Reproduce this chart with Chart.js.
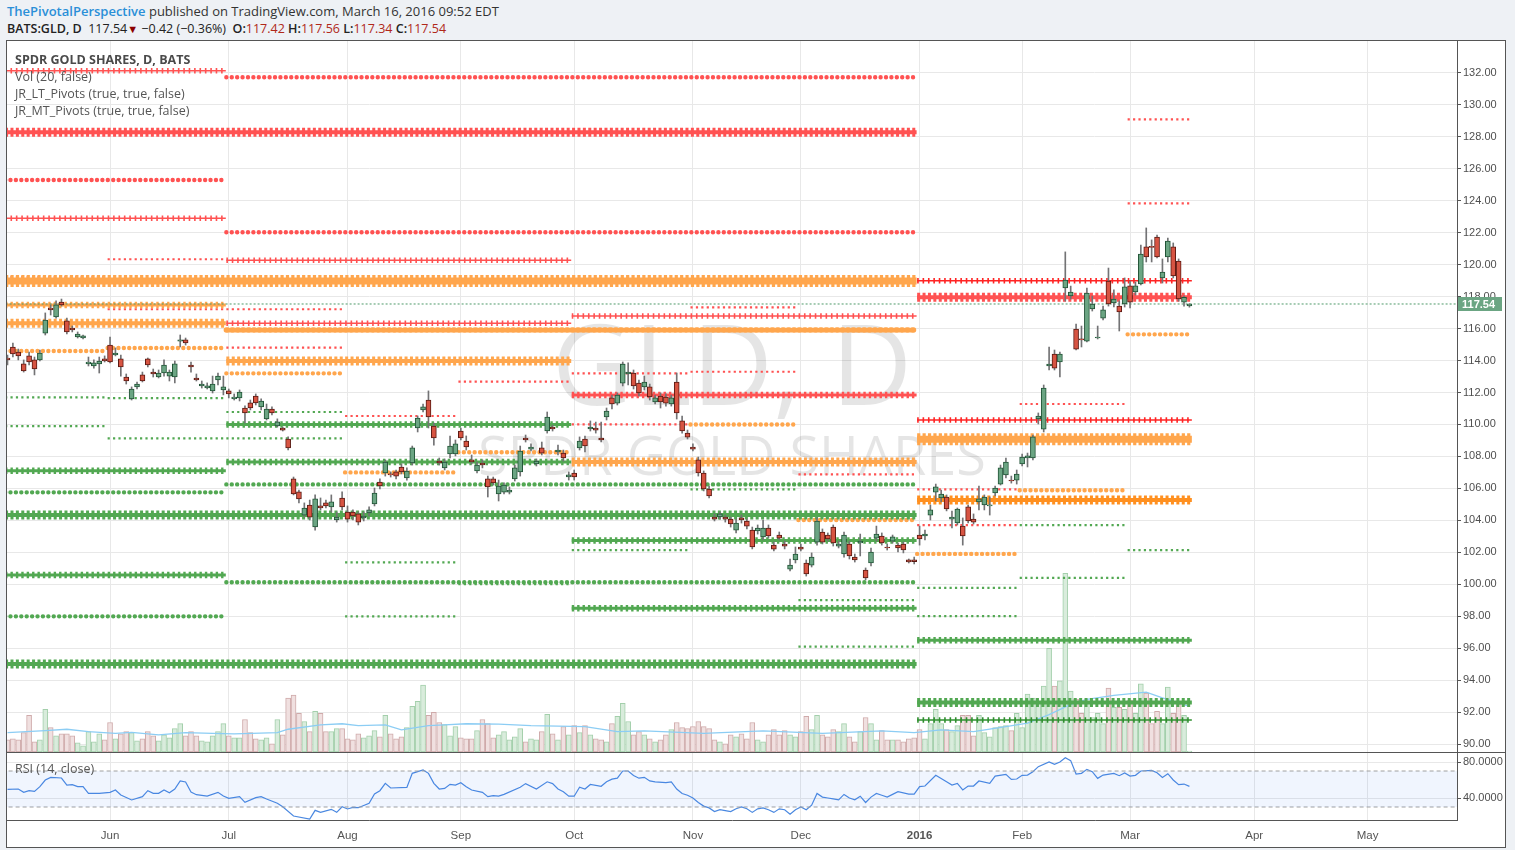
<!DOCTYPE html>
<html>
<head>
<meta charset="utf-8">
<title>BATS:GLD, D</title>
<script src="https://cdn.jsdelivr.net/npm/chart.js@4.4.1/dist/chart.umd.min.js"></script>
<style>
  body { margin:0; width:1515px; height:850px; background:#eef1f5; font-family:"Open Sans", sans-serif; position:relative; overflow:hidden; }
  .head1 { position:absolute; left:7px; top:2px; font-size:13px; color:#333; white-space:nowrap; }
  .head1 .who { color:#2a8fd8; font-weight:600; }
  .head2 { position:absolute; left:7px; top:20px; font-size:12.5px; color:#222; white-space:nowrap; }
  .head2 b { font-weight:600; }
  .head2 .dn { color:#b0281a; }
  .head2 .tri { color:#8b0000; font-size:11px; }
  .frame { position:absolute; left:6px; top:40px; width:1498px; height:806px; background:#fff; border:1px solid #555; }
  #main { position:absolute; left:0; top:0; }
  #rsi { position:absolute; left:0; top:712px; }
  .sep { position:absolute; left:0; top:711px; width:1498px; height:1px; background:#555; }
  .legend { position:absolute; left:8px; top:10px; font-size:12.5px; color:#555; line-height:17px; }
  .legend .t { font-weight:700; color:#4a4a4a; }
  .rsi-lbl { position:absolute; left:8px; top:719px; font-size:12.5px; color:#555; }
</style>
</head>
<body>
<div class="head1"><span class="who">ThePivotalPerspective</span> published on TradingView.com, March 16, 2016 09:52 EDT</div>
<div class="head2"><b>BATS:GLD, D</b>&nbsp; 117.54<span class="tri">&#9660;</span> &minus;0.42 (&minus;0.36%)&nbsp; <b>O:</b><span class="dn">117.42</span> <b>H:</b><span class="dn">117.56</span> <b>L:</b><span class="dn">117.34</span> <b>C:</b><span class="dn">117.54</span></div>
<div class="frame">
  <canvas id="main" width="1498" height="711"></canvas>
  <div class="sep"></div>
  <canvas id="rsi" width="1498" height="94"></canvas>
  <div class="legend">
    <div class="t">SPDR GOLD SHARES, D, BATS</div>
    <div>Vol (20, false)</div>
    <div>JR_LT_Pivots (true, true, false)</div>
    <div>JR_MT_Pivots (true, true, false)</div>
  </div>
  <div class="rsi-lbl">RSI (14, close)</div>
</div>
<script>
// daily bars, 2015-05-05 .. 2016-03-16 (index = trading day)
const open = [
  114.16,114.85,114.53,113.79,114.29,114.04,114.04,115.72,117.29,116.73,
  117.66,116.48,116.04,115.48,115.41,113.79,113.66,113.79,114.10,114.97,
  114.35,114.10,112.97,111.60,112.35,113.10,114.10,113.28,112.97,113.22,
  113.03,112.97,115.22,115.29,113.72,112.91,112.41,112.28,112.10,112.78,
  112.16,112.10,111.60,111.66,111.03,111.35,111.78,111.10,110.35,110.97,
  109.91,109.78,109.09,106.59,105.78,104.33,104.96,103.58,104.90,105.09,
  104.84,104.02,105.40,104.52,104.52,104.40,104.15,104.46,105.02,106.40,
  106.96,106.90,107.03,107.34,106.65,107.59,109.78,110.91,111.53,109.90,
  107.71,107.28,108.15,108.15,109.59,108.96,107.78,107.09,107.59,106.59,
  106.59,105.65,105.77,105.77,106.59,107.03,109.15,108.46,107.53,108.53,
  109.59,109.84,108.28,108.21,106.71,106.96,108.53,109.09,109.72,109.78,
  109.15,110.47,111.66,111.34,112.59,113.16,113.22,112.59,112.35,112.35,
  111.41,111.78,111.72,111.28,112.66,110.22,109.46,108.59,107.78,106.96,
  105.96,104.21,104.21,104.21,104.08,103.39,104.15,103.96,103.39,103.33,
  102.96,103.52,102.45,103.08,102.52,100.95,101.52,102.33,101.33,101.20,
  102.64,103.27,103.08,103.58,102.39,101.89,102.52,101.70,102.58,100.89,
  101.33,102.89,103.02,102.33,102.70,102.45,102.52,101.52,101.52,103.08,
  103.02,104.33,105.77,105.40,105.46,104.08,103.83,103.64,104.84,104.08,
  105.15,104.96,104.90,105.71,106.27,106.84,106.52,106.52,107.53,107.90,
  107.90,110.34,109.71,113.66,114.41,113.91,118.54,118.04,115.97,115.35,
  115.22,117.23,115.41,116.66,118.98,117.60,117.41,117.54,118.67,118.29,
  118.79,121.11,121.14,121.73,119.17,120.48,121.11,120.23,117.66,117.42
];
const high = [
  114.35,115.10,114.72,114.04,114.53,114.22,114.66,116.98,117.48,117.73,
  117.85,116.66,116.16,115.79,115.60,114.22,114.04,114.22,114.29,115.47,
  114.79,114.35,113.16,112.35,112.66,113.28,114.16,113.47,113.41,114.04,
  113.41,113.97,115.60,115.41,113.91,113.16,112.72,112.60,113.03,113.22,
  113.03,112.22,111.91,112.16,111.16,111.53,111.91,111.60,111.28,111.10,
  110.35,109.84,109.22,106.71,105.90,105.09,105.27,105.59,105.40,105.27,
  105.59,104.52,105.78,104.90,104.65,104.52,104.52,104.84,106.02,106.59,
  107.78,107.03,107.15,107.53,107.28,108.65,110.53,111.28,112.10,110.09,
  107.90,107.84,109.28,109.03,109.78,109.28,108.09,107.65,107.78,106.77,
  106.71,106.52,106.34,106.09,107.46,108.65,109.34,108.78,107.84,108.90,
  110.78,109.96,108.71,108.40,107.03,107.15,109.22,109.28,110.22,110.15,
  110.15,111.03,111.84,111.97,113.91,113.85,113.41,112.78,113.03,112.53,
  111.84,111.97,111.91,111.84,113.22,110.53,109.65,108.78,107.96,107.09,
  106.15,104.40,104.52,104.33,104.21,104.08,104.33,104.08,103.58,103.71,
  104.02,103.71,102.64,103.27,102.70,101.58,102.33,102.52,101.52,101.96,
  104.15,103.46,103.21,103.71,102.70,103.27,102.70,101.89,103.14,101.02,
  102.27,103.64,103.21,102.52,103.08,102.58,102.64,101.58,101.70,103.64,
  103.39,104.96,106.27,105.90,105.59,104.58,104.77,104.15,104.96,104.40,
  106.15,105.59,105.46,106.15,107.46,107.90,106.77,107.15,108.15,108.21,
  109.34,110.72,112.47,114.85,114.66,114.53,120.80,118.66,116.29,116.16,
  118.54,118.04,116.16,117.41,119.79,118.42,117.73,119.17,118.98,118.92,
  121.23,122.30,121.55,121.86,120.36,121.67,121.36,120.36,118.05,117.56
];
const low = [
  113.72,114.22,114.04,113.28,113.72,113.10,113.97,115.60,116.85,116.66,
  117.41,115.66,115.79,115.41,115.35,113.66,113.53,113.22,113.91,113.85,
  114.29,113.03,112.53,111.53,112.22,112.66,113.60,112.97,112.91,113.03,
  112.72,112.60,114.85,114.97,113.28,112.72,112.28,112.22,111.97,112.47,
  111.85,111.66,111.53,111.47,110.10,110.91,111.22,110.91,110.28,110.60,
  109.84,109.59,108.40,105.59,105.09,104.20,104.02,103.39,104.65,104.77,
  104.52,103.89,104.65,103.89,104.02,103.71,103.96,104.27,104.90,105.96,
  106.77,106.71,106.59,106.90,106.52,107.46,109.53,110.78,109.78,108.71,
  107.46,107.15,107.90,108.03,109.03,108.40,107.53,106.96,107.28,105.46,
  106.21,105.21,105.65,105.65,106.46,106.77,108.90,108.34,107.40,108.09,
  109.46,109.59,108.09,107.71,106.52,106.52,108.40,108.28,109.59,109.46,
  108.90,110.28,110.97,111.22,112.41,112.47,112.22,111.78,112.16,111.53,
  111.28,111.03,111.15,111.15,110.34,109.46,109.09,108.34,106.77,105.84,
  105.40,103.96,104.08,103.89,103.58,103.21,103.83,103.46,102.21,103.14,
  102.77,102.89,102.08,102.77,102.21,100.83,101.33,102.08,100.51,101.08,
  102.45,102.52,102.70,102.39,102.27,101.70,101.58,101.39,101.77,100.27,
  101.14,102.70,102.45,102.14,102.58,102.02,101.96,101.33,101.27,102.45,
  102.77,104.02,105.21,105.15,104.59,103.52,103.71,102.45,103.83,103.77,
  104.65,104.65,104.33,105.52,106.21,106.65,106.33,106.27,107.40,107.34,
  107.78,110.03,109.53,113.41,113.41,112.97,117.72,117.85,114.66,114.85,
  115.16,117.10,115.35,116.54,117.41,117.35,115.85,117.35,117.29,118.10,
  118.73,120.17,120.17,120.42,118.85,120.17,119.17,117.72,117.41,117.34
];
const close = [
  114.04,114.41,114.29,113.35,113.91,113.47,114.47,116.54,117.17,117.48,
  117.48,115.79,115.91,115.66,115.54,113.91,113.85,113.97,113.97,113.91,
  114.47,113.60,112.72,112.22,112.53,112.72,113.72,113.16,113.22,113.72,
  113.28,113.79,115.29,115.10,113.60,112.78,112.53,112.41,112.53,113.03,
  112.35,111.91,111.72,112.03,110.72,111.03,111.35,111.47,110.97,110.72,
  110.16,109.65,108.53,105.65,105.34,104.77,104.20,105.34,104.77,104.90,
  105.15,104.20,104.84,104.08,104.27,103.89,104.27,104.65,105.71,106.15,
  107.65,106.84,106.77,107.03,107.09,108.53,110.40,111.10,110.47,109.15,
  107.59,107.65,108.65,108.78,109.15,108.59,107.65,107.46,107.46,106.09,
  106.34,106.15,106.21,105.90,107.28,108.34,109.03,108.59,107.71,108.21,
  110.46,109.72,108.40,107.90,106.84,106.71,108.96,108.65,109.84,109.65,
  109.03,110.84,111.28,111.84,113.78,113.28,112.41,111.97,112.66,111.72,
  111.66,111.41,111.34,111.66,110.72,109.59,109.21,108.46,106.96,105.96,
  105.52,104.08,104.40,104.08,103.77,103.83,104.02,103.64,102.33,103.52,
  103.52,103.02,102.20,102.89,102.39,101.20,101.89,102.20,100.64,101.70,
  103.96,102.64,102.83,102.58,102.52,103.08,101.77,101.52,102.70,100.39,
  102.02,103.14,102.58,102.27,102.96,102.27,102.14,101.39,101.42,102.83,
  103.14,104.65,106.09,105.65,104.71,104.21,104.71,103.02,103.96,103.89,
  105.34,105.46,104.96,106.02,107.28,107.65,106.46,106.90,107.96,108.03,
  109.22,110.53,112.28,113.78,113.53,114.41,119.04,118.29,114.72,115.29,
  118.23,117.54,115.47,117.17,117.54,117.85,117.04,118.61,117.66,118.67,
  120.67,120.48,121.08,120.48,119.54,121.48,119.29,117.85,117.96,117.54
];
// volume, millions of shares
const volume = [
  6,6.5,6,9.5,18,5,6,21,12,8,
  9,9,8,4.5,3,10,5,9,6,14.5,
  6.5,9,10,9.5,5.5,6.5,10,8,5.5,8.5,
  7,11.5,14,8,10,8,5.5,5,8,10,
  14,8,7,7,16,9.5,6.5,6,7,4,
  16,8.5,26.5,28,19,15,10,20,19,10,
  10,11.5,11.5,6.5,6,9,7,8,10.5,7.5,
  18,9,6.5,7.5,12,22.5,25,33,18,19.5,
  14.5,13.5,8,12.5,7,6.5,6.5,10.5,16,14,
  7,8.5,10,6,7.5,11.5,5,6.5,6,10,
  18.5,9,6,12.5,8.5,13,9.5,13,8.5,6.5,
  6,5,14,17.5,24,15,8.5,10,8.5,6.5,
  5,6,8.5,11,14.5,12,11.5,12.5,15,12.5,
  11.5,6,5,4,8.5,7.5,9,6.5,14.5,6,
  5,8.5,11,8.5,10.5,8.5,7.5,10,17.5,11,
  18,8.5,7.5,11,10,14,7.5,5,10,17,
  14,6,10.5,6,6,6,5,6.5,7,11,
  6.5,14,21,14,11,10,13,18,18,8,
  18,9.5,7.5,12,12.5,13,10.5,19,12,28.5,
  26.5,25,32.5,51,32.5,35,88,30,26,19,
  24.5,17,19,14,31.5,22,22,21,25.5,19,
  33.5,29,14,20,14,32,19,23.5,18,0.5
];
// Vol(20) average, read at these bars
const volMaAt  = [0,7,11,15,20,23,28,33,38,42, 50,52,58,62,65,70,73,78,81,85, 91,97,107,113,118,129,140,151,162,168, 173,179,185,189,193,197,200,205,211,214, 219];
const volMaVal = [9.5,10.5,11.2,10,9.2,9.7,8.4,9.5,9.2,8.9, 9.5,11.2,13.4,13.9,13,13.4,10.9,13,13.4,13.9, 13.7,13,12.5,10,10.4,9.2,10.4,9.2,10.4,9.5, 10.9,10,12.5,14.2,18.4,23.4,25.9,27.9,29.5,26.7, 22.5];

// RSI(14, close), read at these bars
const rsiAt = [
  0,2,3,4,5,6,7,8,10,11,  12,13,14,15,17,19,20,21,23,25,  26,27,28,29,30,31,32,33,34,35,
  37,39,40,41,43,44,46,47,48,50,  51,53,56,57,58,60,61,62,63,64,  65,67,68,69,70,71,74,75,77,78,
  79,80,81,82,83,84,85,86,88,89,  90,91,92,95,96,98,100,101,102,103,  104,105,106,107,108,110,111,112,113,114,
  115,116,117,118,119,120,122,123,124,125,  126,127,128,129,130,131,132,133,134,135,  136,137,138,139,140,141,142,143,144,145,
  146,147,148,149,150,151,152,153,154,155,  156,157,158,159,160,161,162,163,164,165,  167,168,169,170,172,174,175,176,177,178,
  179,180,182,183,185,186,187,188,189,190,  191,193,194,195,196,197,198,199,200,201,  202,203,205,206,207,208,209,210,212,213,
  214,215,216,217,218,219
];
const rsiVal = [
  49.6,50.0,46.3,48.1,47.4,52.6,60.0,62.9,62.2,54.4,  54.8,52.6,52.6,45.2,45.2,46.3,48.9,43.3,37.8,41.5,  48.1,45.2,45.2,48.9,45.9,50.0,58.9,57.8,46.6,43.7,
  42.2,46.3,42.2,39.6,41.5,35.2,40.4,41.5,38.9,34.1,  30.3,20.0,16.6,26.3,24.1,27.4,24.1,30.3,27.8,29.6,  29.2,34.1,44.4,48.1,56.3,51.1,51.8,67.4,71.1,67.4,
  56.3,50.0,50.7,55.2,54.4,57.0,52.6,48.9,46.3,41.5,  42.6,42.2,44,52,56,50,58,56,50,47,  42,42,52,50,55,53,58,61,62,70,
  70,65,62,63,59,58,57,58,50,45,  43,40,35,31,29,25,27,26,25,28,  30,28,24,28,29,27,24,28,27,22,
  27,30,27,32,45,41,40,39,38,44,  40,38,42,35,41,45,43,41,44,47.0,  44.4,44.4,52.6,53.3,65.2,58.1,54.4,56.3,48.9,53.3,
  53.3,58.9,56.3,64.4,66.3,60.7,61.1,65.2,65.5,69.2,  74.8,80.0,77.4,80.0,84.8,81.5,66.6,67.4,71.8,69.2,  61.8,65.5,67.4,64.8,67.8,64.4,65.2,70.0,70.7,68.1,
  62.9,67.0,60.0,54.8,55.5,52.9
];
const rsiBands = [70, 30];

// month axis
const monthBars   = [19, 41, 63, 84, 105, 127, 147, 169, 188, 208, 231, 252];
const monthLabels = ['Jun','Jul','Aug','Sep','Oct','Nov','Dec','2016','Feb','Mar','Apr','May'];

// pivot periods as bar ranges
const periods = {
  may15:[0,18], jun15:[19,40], jul15:[41,62], aug15:[63,83], sep15:[84,104],
  oct15:[105,126], nov15:[127,146], dec15:[147,168],
  jan16:[169,187], feb16:[188,207], mar16:[208,219],
  q2_15:[0,40], q3_15:[41,104], q4_15:[105,168], h2_15:[41,168], y15:[0,168], q1_16:[169,219]
};
const pivotPeriod = [
  'y15','y15','y15','y15',
  'h2_15','h2_15','h2_15','h2_15','h2_15',
  'q2_15','q2_15','q2_15','q2_15','q2_15','q2_15','q2_15','q2_15','q2_15',
  'q3_15','q3_15','q3_15','q3_15','q3_15',
  'q4_15','q4_15','q4_15','q4_15','q4_15',
  'q1_16','q1_16','q1_16','q1_16','q1_16','q1_16','q1_16','q1_16',
  'may15','may15','may15','may15',
  'jun15','jun15','jun15','jun15','jun15',
  'jul15','jul15','jul15','jul15','jul15',
  'aug15','aug15','aug15','aug15',
  'sep15','sep15','sep15',
  'oct15','oct15','oct15',
  'nov15','nov15','nov15','nov15',
  'dec15','dec15','dec15','dec15',
  'jan16','jan16','jan16','jan16','jan16',
  'feb16','feb16','feb16','feb16','feb16',
  'mar16','mar16','mar16','mar16'
];
const pivotPrice = [
  128.29,118.98,104.33,95.00,
  131.73,122.03,115.91,106.25,100.12,
  132.14,125.30,122.90,117.48,116.33,107.10,105.75,100.58,97.99,
  120.28,116.33,113.97,110.00,107.65,
  116.79,111.84,107.65,102.73,98.49,
  119.00,117.96,110.28,109.07,105.27,96.50,92.60,91.50,
  119.23,114.60,111.70,109.90,
  120.34,117.21,114.79,111.65,109.13,
  117.21,114.81,113.20,110.78,109.13,
  110.53,107.00,101.37,97.99,
  112.68,108.26,100.00,
  113.20,110.00,102.14,
  117.33,113.30,110.00,105.94,
  106.88,104.02,99.00,96.09,
  105.94,103.70,101.90,99.77,98.00,
  111.28,109.20,105.88,103.70,100.40,
  129.10,123.84,115.64,102.14
];
const pivotColor = [
  'r','o','g','g',
  'r','r','o','g','g',
  'r','r','r','o','o','g','g','g','g',
  'r','r','o','g','g',
  'r','r','o','g','g',
  'R','r','R','o','O','g','g','G',
  'r','o','g','g',
  'r','r','o','g','g',
  'r','r','o','g','g',
  'r','o','g','g',
  'r','o','g',
  'r','r','g',
  'r','r','o','g',
  'r','o','g','g',
  'r','r','o','g','g',
  'r','r','o','g','g',
  'r','r','o','g'
];
const pivotStyle = [
  't','T','t','t',
  'm','m','m2','m','m',
  'c','m','c','mt','t','mt','m','mt','m',
  'c','c','t','mt','mt',
  'c','mt','t','mt','mt',
  'c','t','c','T','t','mt','t','c',
  's','m','s','s',
  's','s','m','s','s',
  's','s','m','s','s',
  's','m','s','s',
  's','m','s',
  's','s','s',
  's','s','m','s',
  's','m','s','s',
  's','s','m','s','s',
  's','s','m','s','s',
  's','s','m','s'
];

const X_MIN = -0.093, X_MAX = 268.58;
const UP = '#6ba583', UP_EDGE = '#225437', DN = '#d75442', DN_EDGE = '#5b1a13';

const pivotColors = { r:'#ff5252', R:'#ff2424', o:'#ffa64d', O:'#ff9020', g:'#52a852', G:'#2f8f2f' };
const pivotStyles = {
  s:  { tick:2.2, dash:[2.2, 3.2] },
  m:  { tick:4.4, dash:[0.01, 5.397], cap:'round' },
  m2: { tick:5.4, dash:[1.4, 4.0], cap:'round' },
  c:  { core:1.5, tick:5.5, dash:[1.6, 3.8] },
  mt: { core:3, tick:6.5, dash:[2.4, 3.0] },
  t:  { core:4, tick:9, dash:[3, 2.4] },
  T:  { core:7, tick:12, dash:[3.2, 2.2] }
};

function pivotDatasets() {
  const sets = [];
  pivotPrice.forEach((price, k) => {
    const [from, to] = periods[pivotPeriod[k]];
    const st = pivotStyles[pivotStyle[k]];
    const color = pivotColors[pivotColor[k]];
    const pts = () => [{x: from - 0.45, y: price}, {x: to + 0.45, y: price}];
    const base = { type:'line', borderColor: color, pointRadius:0, order:20, yAxisID:'y', fill:false };
    if (st.core) sets.push({ ...base, data: pts(), borderWidth: st.core });
    sets.push({ ...base, data: pts(), borderWidth: st.tick, borderDash: st.dash, borderCapStyle: st.cap || 'butt' });
  });
  return sets;
}

const isUp = close.map((c, i) => c >= open[i]);
const last = close.length - 1;

// keep the plot area flush with the canvas edges
const fitY = s => { s.width = 48; s.paddingTop = 0; s.paddingBottom = 0; };
const fitX = h => s => { s.height = h; s.paddingLeft = 0; s.paddingRight = 0; };

const watermark = {
  id: 'watermark',
  beforeDatasetsDraw(chart) {
    const { ctx, chartArea: a } = chart;
    const cx = (a.left + a.right) / 2;
    ctx.save();
    ctx.fillStyle = 'rgba(0,0,0,0.1)';
    ctx.textAlign = 'center';
    ctx.font = '112px "Open Sans"';
    ctx.fillText('GLD, D', cx, 364);
    ctx.font = '54px "Open Sans"';
    ctx.fillText('SPDR GOLD SHARES', cx, 434);
    ctx.restore();
  }
};

const priceTag = {
  id: 'priceTag',
  afterDraw(chart) {
    const { ctx, chartArea: a } = chart;
    const y = Math.round(chart.scales.y.getPixelForValue(close[last]));
    ctx.save();
    ctx.fillStyle = UP;
    ctx.fillRect(a.right + 1, y - 7, 44, 14);
    ctx.fillStyle = '#fff';
    ctx.font = 'bold 11px "Liberation Sans"';
    ctx.textBaseline = 'middle';
    ctx.fillText(close[last].toFixed(2), a.right + 5, y + 0.5);
    ctx.restore();
  }
};

const axisFont = { family: 'Liberation Sans', size: 11 };

new Chart(document.getElementById('main'), {
  type: 'bar',
  data: {
    datasets: [
      {
        type: 'bar', yAxisID: 'yv', order: 30, grouped: false,
        data: volume.map((v, i) => ({ x: i, y: v })),
        backgroundColor: isUp.map(u => u ? '#d9ecdc' : '#f0e0e0'),
        borderColor: isUp.map(u => u ? '#a3cfab' : '#cfaaaa'),
        borderWidth: 1, borderSkipped: false, barThickness: 5
      },
      {
        type: 'line', yAxisID: 'yv', order: 25,
        data: volMaAt.map((x, k) => ({ x, y: volMaVal[k] })),
        borderColor: '#8ccdf4', borderWidth: 1.3, pointRadius: 0, fill: false
      },
      ...pivotDatasets(),
      {
        type: 'line', yAxisID: 'y', order: 5,
        data: [{ x: X_MIN - 1, y: close[last] }, { x: X_MAX + 1, y: close[last] }],
        borderColor: '#4e9a6a', borderWidth: 1, borderDash: [2, 2], pointRadius: 0, fill: false
      },
      {
        type: 'bar', yAxisID: 'y', order: 2, grouped: false,
        data: low.map((l, i) => ({ x: i, y: [l, high[i]] })),
        backgroundColor: '#737375', borderWidth: 0, barThickness: 1
      },
      {
        type: 'bar', yAxisID: 'y', order: 1, grouped: false,
        data: open.map((o, i) => ({ x: i, y: [o, close[i]] })),
        backgroundColor: isUp.map(u => u ? UP : DN),
        borderColor: isUp.map(u => u ? UP_EDGE : DN_EDGE),
        borderWidth: 1, borderSkipped: false, barThickness: 5, minBarLength: 1
      }
    ]
  },
  options: {
    responsive: false, animation: false, devicePixelRatio: 1,
    layout: { padding: 0, autoPadding: false },
    plugins: { legend: { display: false }, tooltip: { enabled: false } },
    scales: {
      x: {
        type: 'linear', min: X_MIN, max: X_MAX, offset: false,
        grid: { color: '#e8e8e8', drawTicks: false, offset: false },
        border: { display: false },
        ticks: { display: false },
        afterBuildTicks: s => { s.ticks = monthBars.map(v => ({ value: v })); },
        afterFit: fitX(0)
      },
      y: {
        position: 'right', min: 89.5, max: 134.0,
        grid: { color: '#e8e8e8', tickLength: 4, tickColor: '#555' },
        border: { color: '#555' },
        ticks: { stepSize: 2, includeBounds: false, padding: 2, color: '#4f4f4f', font: axisFont, callback: v => v.toFixed(2) },
        afterBuildTicks: s => { s.ticks = s.ticks.filter(t => t.value <= 132); },
        afterFit: fitY
      },
      yv: { display: false, min: 0, max: 350 }
    }
  },
  plugins: [watermark, priceTag]
});

const bandLine = v => [{ x: X_MIN - 1, y: v }, { x: X_MAX + 1, y: v }];

new Chart(document.getElementById('rsi'), {
  type: 'line',
  data: {
    datasets: [
      {
        data: bandLine(rsiBands[0]), borderColor: '#a0a0a0', borderWidth: 1, borderDash: [4, 3],
        pointRadius: 0, fill: { value: rsiBands[1] }, backgroundColor: 'rgba(66,133,244,0.08)'
      },
      {
        data: bandLine(rsiBands[1]), borderColor: '#a0a0a0', borderWidth: 1, borderDash: [4, 3],
        pointRadius: 0, fill: false
      },
      {
        data: rsiAt.map((x, k) => ({ x, y: rsiVal[k] })),
        borderColor: '#4a88e0', borderWidth: 1.2, pointRadius: 0, fill: false
      }
    ]
  },
  options: {
    responsive: false, animation: false, devicePixelRatio: 1,
    layout: { padding: 0, autoPadding: false },
    plugins: { legend: { display: false }, tooltip: { enabled: false } },
    scales: {
      x: {
        type: 'linear', min: X_MIN, max: X_MAX,
        grid: { color: '#e8e8e8', drawTicks: false },
        border: { color: '#555' },
        ticks: {
          color: '#555', padding: 9,
          font: ctx => ({ family: 'Liberation Sans', size: 11.5, weight: ctx.tick && ctx.tick.label === '2016' ? 'bold' : 'normal' }),
          callback: v => monthLabels[monthBars.indexOf(v)]
        },
        afterBuildTicks: s => { s.ticks = monthBars.map(v => ({ value: v })); },
        afterFit: fitX(27)
      },
      y: {
        position: 'right', min: 15.56, max: 90,
        grid: { color: '#e8e8e8', tickLength: 4, tickColor: '#555' },
        border: { color: '#555' },
        ticks: { padding: 2, color: '#4f4f4f', font: axisFont, callback: v => v.toFixed(4) },
        afterBuildTicks: s => { s.ticks = [{ value: 40 }, { value: 80 }]; },
        afterFit: fitY
      }
    }
  }
});
</script>
</body>
</html>
